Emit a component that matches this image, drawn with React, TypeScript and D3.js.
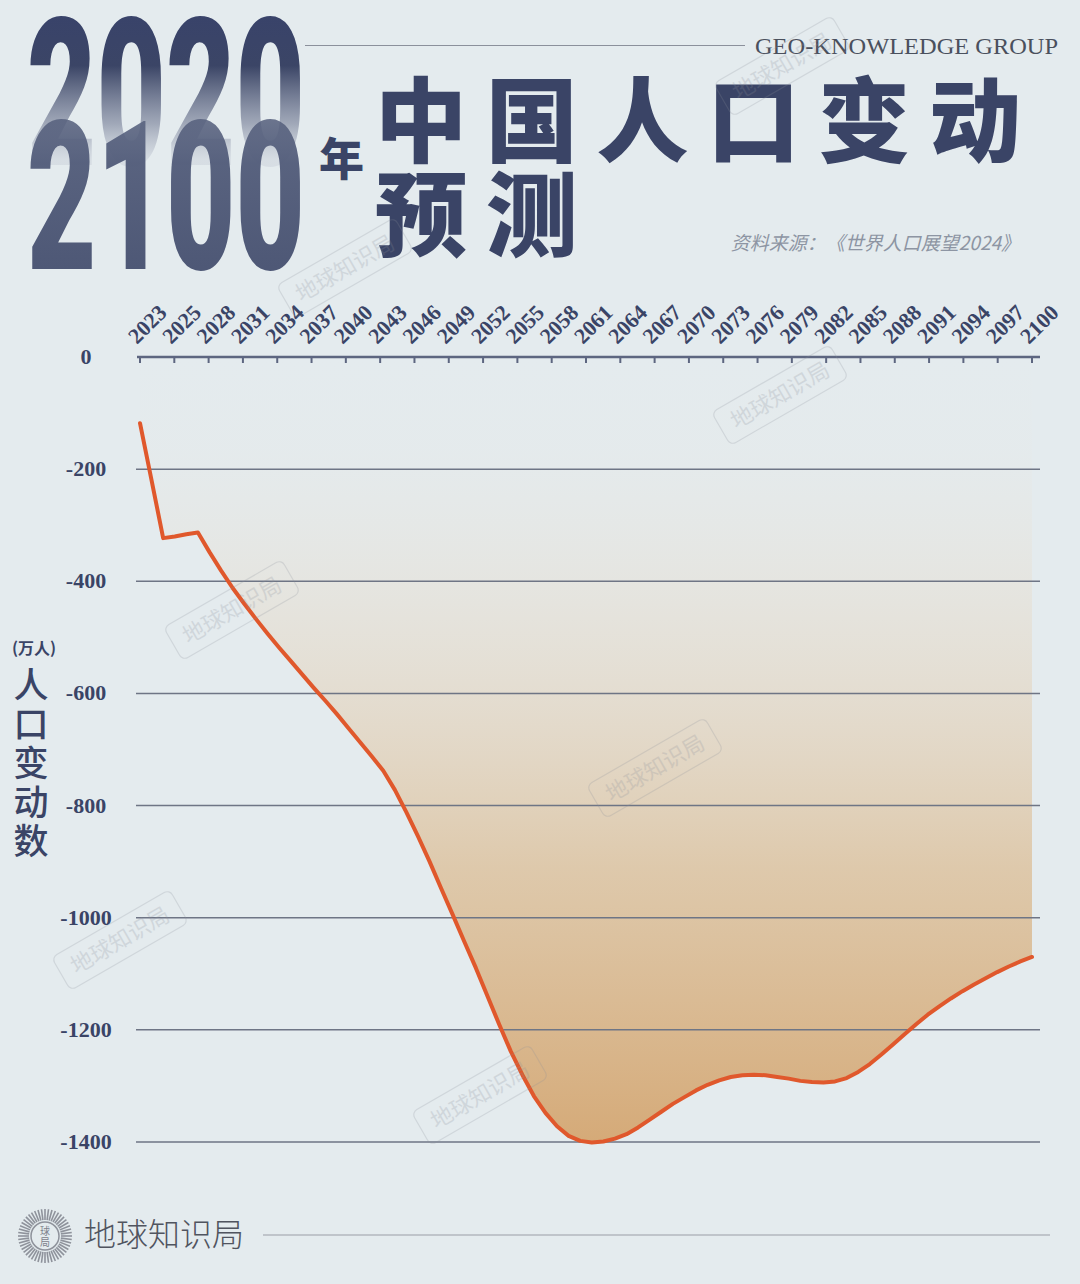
import React from 'react';
import * as d3 from 'd3';

// ---------- data ----------
const startYear = 2023;
// yearly population change (10k persons), 2023 … 2100
const changes: number[] = [
  -118, -220, -323, -320, -316, -313, -348, -381, -412, -440,
  -467, -493, -518, -542, -566, -590, -613, -637, -662, -687,
  -712, -738, -772, -812, -855, -900, -948, -995, -1043, -1090,
  -1140, -1190, -1238, -1280, -1318, -1348, -1372, -1389, -1398, -1401,
  -1399, -1394, -1386, -1374, -1360, -1346, -1332, -1320, -1308, -1298,
  -1290, -1284, -1281, -1280, -1281, -1284, -1287, -1291, -1293, -1294,
  -1292, -1286, -1275, -1261, -1244, -1226, -1208, -1190, -1173, -1158,
  -1144, -1131, -1119, -1108, -1097, -1087, -1078, -1070,
];
const years: number[] = changes.map((_, i) => startYear + i);

const xTickLabels: string[] = [
  '2023', '2025', '2028', '2031', '2034', '2037', '2040', '2043', '2046',
  '2049', '2052', '2055', '2058', '2061', '2064', '2067', '2070', '2073',
  '2076', '2079', '2082', '2085', '2088', '2091', '2094', '2097', '2100',
];
const yTicks: number[] = [0, -200, -400, -600, -800, -1000, -1200, -1400];

const titleChars: string[] = ['中', '国', '人', '口', '变', '动'];
const titleChars2: string[] = ['预', '测'];
const yTitleChars: string[] = ['人', '口', '变', '动', '数'];

// decorative watermark stamps [cx, cy]
const stamps: [number, number][] = [
  [782, 66], [345, 268], [780, 395], [232, 610], [655, 768], [120, 940], [480, 1095],
];

const W = 1080;
const H = 1284;
const NAVY = '#3a4466';

export default function App() {
  const xLin = d3.scaleLinear().domain([2023, 2100]).range([140, 1032]);
  const xLab = d3.scalePoint<string>().domain(xTickLabels).range([140, 1032]);
  const y = d3.scaleLinear().domain([0, -1400]).range([357, 1142]);

  const pts = years.map((yr, i) => ({ yr, v: changes[i] }));
  const area = d3
    .area<{ yr: number; v: number }>()
    .x((d) => xLin(d.yr))
    .y0(y(0))
    .y1((d) => y(d.v));
  const line = d3
    .line<{ yr: number; v: number }>()
    .x((d) => xLin(d.yr))
    .y((d) => y(d.v));

  const rays = d3.range(0, 360, 7.5);

  return (
    <div style={{ position: 'absolute', left: 0, top: 0, width: W, height: H }}>
      <svg width={W} height={H} viewBox={`0 0 ${W} ${H}`} style={{ display: 'block' }}>
        <defs>
          <linearGradient id="areaGrad" gradientUnits="userSpaceOnUse" x1="0" y1={y(0)} x2="0" y2={y(-1400)}>
            <stop offset="0" stopColor="#ece6dc" stopOpacity="0" />
            <stop offset="0.12" stopColor="#ebe3d7" stopOpacity="0.08" />
            <stop offset="0.35" stopColor="#e6d7c2" stopOpacity="0.45" />
            <stop offset="0.65" stopColor="#ddc3a0" stopOpacity="0.85" />
            <stop offset="1" stopColor="#d5aa78" stopOpacity="1" />
          </linearGradient>
          <linearGradient id="g2020" gradientUnits="userSpaceOnUse" x1="0" y1="15" x2="0" y2="160">
            <stop offset="0" stopColor="#39436a" />
            <stop offset="0.35" stopColor="#3b4566" />
            <stop offset="0.75" stopColor="#8f97ab" stopOpacity="0.8" />
            <stop offset="1" stopColor="#c3c9d4" stopOpacity="0.4" />
          </linearGradient>
          <linearGradient id="g2100" gradientUnits="userSpaceOnUse" x1="0" y1="118" x2="0" y2="268">
            <stop offset="0" stopColor="#56607d" stopOpacity="0.85" />
            <stop offset="0.3" stopColor="#515b79" stopOpacity="0.95" />
            <stop offset="1" stopColor="#4e5876" />
          </linearGradient>
        </defs>

        {/* background */}
        <rect x={0} y={0} width={W} height={H} fill="#e4ebee" />

        {/* big years */}
        <text
          x={27}
          y={165}
          fontFamily="Roboto, 'DejaVu Sans', sans-serif"
          fontWeight={900}
          fontSize={206}
          textLength={278}
          lengthAdjust="spacingAndGlyphs"
          fill="url(#g2020)"
        >
          2020
        </text>
        <text
          x={27}
          y={269}
          fontFamily="Roboto, 'DejaVu Sans', sans-serif"
          fontWeight={900}
          fontSize={208}
          textLength={278}
          lengthAdjust="spacingAndGlyphs"
          fill="url(#g2100)"
        >
          2100
        </text>
        <text
          x={319}
          y={176}
          fontFamily="'Noto Sans CJK SC', sans-serif"
          fontWeight={900}
          fontSize={45}
          fill={NAVY}
        >
          年
        </text>

        {/* header rule + group name */}
        <line x1={305} x2={745} y1={45.5} y2={45.5} stroke="#8b909b" strokeWidth={1.2} />
        <text
          x={1058}
          y={54}
          textAnchor="end"
          fontFamily="'Liberation Serif', 'Times New Roman', serif"
          fontSize={24}
          fill="#4a505d"
          textLength={303}
          lengthAdjust="spacingAndGlyphs"
        >
          GEO-KNOWLEDGE GROUP
        </text>

        {/* main title */}
        {titleChars.map((c, i) => (
          <text
            key={'t1' + i}
            x={421 + i * 110.8}
            y={155}
            textAnchor="middle"
            fontFamily="'Noto Sans CJK SC', sans-serif"
            fontWeight={900}
            fontSize={92}
            fill={NAVY}
          >
            {c}
          </text>
        ))}
        {titleChars2.map((c, i) => (
          <text
            key={'t2' + i}
            x={421 + i * 110.8}
            y={249}
            textAnchor="middle"
            fontFamily="'Noto Sans CJK SC', sans-serif"
            fontWeight={900}
            fontSize={92}
            fill={NAVY}
          >
            {c}
          </text>
        ))}

        {/* source */}
        <text
          x={1020}
          y={250}
          textAnchor="end"
          fontFamily="'Noto Sans CJK SC', sans-serif"
          fontStyle="italic"
          fontSize={19}
          fill="#8d95a3"
        >
          资料来源：《世界人口展望2024》
        </text>

        {/* area */}
        <path d={area(pts) || ''} fill="url(#areaGrad)" />

        {/* grid lines */}
        {yTicks
          .filter((t) => t !== 0)
          .map((t) => (
            <line key={'g' + t} x1={136} x2={1040} y1={y(t)} y2={y(t)} stroke="#6e7585" strokeWidth={1.5} />
          ))}

        {/* x axis */}
        <line x1={137} x2={1040} y1={y(0)} y2={y(0)} stroke="#5d6680" strokeWidth={2.5} />
        {xTickLabels.map((l) => (
          <g key={'xt' + l}>
            <line x1={xLab(l)} x2={xLab(l)} y1={y(0)} y2={y(0) + 6} stroke="#5d6680" strokeWidth={2} />
            <text
              transform={`translate(${(xLab(l) as number) - 3},${y(0) - 12}) rotate(-45)`}
              fontFamily="'Liberation Serif', 'Times New Roman', serif"
              fontWeight={700}
              fontSize={22}
              fill={NAVY}
            >
              {l}
            </text>
          </g>
        ))}

        {/* y labels */}
        {yTicks.map((t) => (
          <text
            key={'yl' + t}
            x={86}
            y={y(t) + 7}
            textAnchor="middle"
            fontFamily="'Liberation Serif', 'Times New Roman', serif"
            fontWeight={700}
            fontSize={22}
            fill={NAVY}
          >
            {t}
          </text>
        ))}

        {/* y title */}
        <text
          x={34}
          y={654}
          textAnchor="middle"
          fontFamily="'Noto Sans CJK SC', sans-serif"
          fontWeight={700}
          fontSize={16}
          fill={NAVY}
        >
          (万人)
        </text>
        {yTitleChars.map((c, i) => (
          <text
            key={'yt' + i}
            x={31}
            y={698 + i * 39}
            textAnchor="middle"
            fontFamily="'Noto Sans CJK SC', sans-serif"
            fontWeight={500}
            fontSize={35}
            fill={NAVY}
          >
            {c}
          </text>
        ))}

        {/* line */}
        <path d={line(pts) || ''} fill="none" stroke="#e0582c" strokeWidth={4} strokeLinejoin="round" strokeLinecap="round" />

        {/* watermark stamps */}
        {stamps.map(([cx, cy], i) => (
          <g key={'st' + i} transform={`translate(${cx},${cy}) rotate(-30)`} opacity={0.22}>
            <rect x={-68} y={-19} width={136} height={38} rx={6} fill="none" stroke="#8a8f9a" strokeWidth={1.2} />
            <text
              x={0}
              y={8}
              textAnchor="middle"
              fontFamily="'Noto Sans CJK SC', sans-serif"
              fontSize={22}
              fill="#8a8f9a"
            >
              地球知识局
            </text>
          </g>
        ))}

        {/* footer */}
        <g transform="translate(45,1236)">
          {rays.map((a) => {
            const r = (a * Math.PI) / 180;
            return (
              <line
                key={'r' + a}
                x1={Math.cos(r) * 16}
                y1={Math.sin(r) * 16}
                x2={Math.cos(r) * 27}
                y2={Math.sin(r) * 27}
                stroke="#8e929b"
                strokeWidth={1.6}
              />
            );
          })}
          <circle r={14} fill="#e4ebee" stroke="#8e929b" strokeWidth={1.5} />
          <text x={0} y={-1} textAnchor="middle" fontFamily="'Noto Sans CJK SC', sans-serif" fontSize={10} fill="#7d818b">
            球
          </text>
          <text x={0} y={10} textAnchor="middle" fontFamily="'Noto Sans CJK SC', sans-serif" fontSize={10} fill="#7d818b">
            局
          </text>
        </g>
        <text
          x={84}
          y={1246}
          fontFamily="'Noto Sans CJK SC', sans-serif"
          fontWeight={300}
          fontSize={32}
          fill="#50545f"
        >
          地球知识局
        </text>
        <line x1={263} x2={1050} y1={1235} y2={1235} stroke="#9a9ea6" strokeWidth={1.2} />
      </svg>
    </div>
  );
}
